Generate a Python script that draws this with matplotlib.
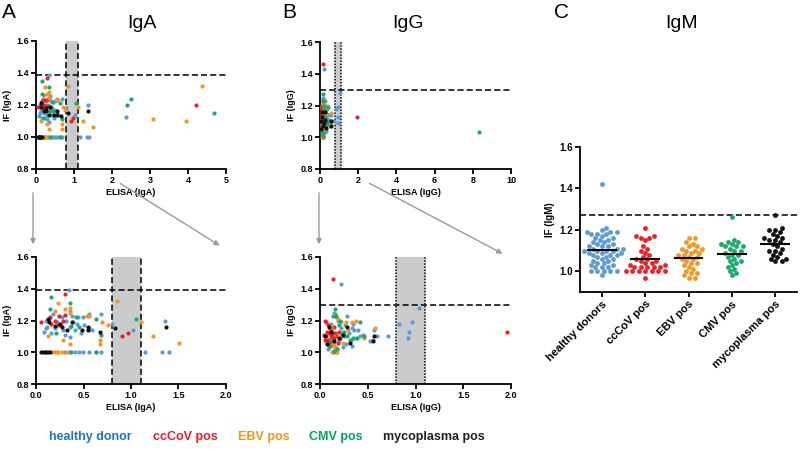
"""IgA / IgG / IgM specificity panels: ELISA vs IF scatter plus IgM dot plot."""

import numpy as np
import matplotlib
matplotlib.use("Agg")
import matplotlib.pyplot as plt
from matplotlib.patches import FancyArrowPatch

plt.rcParams["font.family"] = ["Liberation Sans", "DejaVu Sans"]

# group names and colours
groups = ["healthy donor", "ccCoV pos", "EBV pos", "CMV pos", "mycoplasma pos"]
dot_colors = ["#5b9bd5", "#ed2024", "#f7941d", "#1aab6b", "#111111"]
text_colors = ["#1b75bc", "#ed1c24", "#f7941d", "#00a651", "#231f20"]

# IgA: (ELISA, IF) per group
iga_healthy = [(0.35, 1.39), (0.685, 1.24), (0.557, 1.24), (0.494, 1.225), (0.44, 1.22),
               (0.36, 1.257), (0.11, 1.20), (0.10, 1.15), (0.12, 1.16), (0.20, 1.15),
               (0.25, 1.17), (0.355, 1.16), (0.41, 1.14), (0.47, 1.12), (0.51, 1.17),
               (0.56, 1.15), (0.59, 1.14), (0.355, 1.095), (0.30, 1.11), (0.16, 1.12),
               (0.27, 1.225), (0.32, 1.20), (0.39, 1.19), (0.80, 1.18), (1.02, 1.14),
               (1.36, 1.20), (0.18, 1.24), (0.14, 1.21), (0.22, 1.19), (0.38, 1.23),
               (0.43, 1.18), (0.28, 1.14), (0.08, 1.13), (0.30, 1.0), (0.41, 1.0),
               (0.45, 1.0), (0.49, 1.0), (0.56, 1.0), (0.63, 1.0), (0.685, 1.0),
               (1.15, 1.0), (1.33, 1.0), (1.40, 1.0), (0.22, 1.0), (0.35, 1.0),
               (2.36, 1.125)]
iga_cccov = [(0.30, 1.37), (0.05, 1.19), (0.15, 1.225), (0.20, 1.20), (0.24, 1.23),
             (0.285, 1.195), (0.31, 1.235), (0.23, 1.17), (0.16, 1.18), (0.91, 1.10),
             (0.97, 1.12), (4.21, 1.20)]
iga_ebv = [(0.85, 1.32), (0.23, 1.31), (0.355, 1.28), (0.30, 1.27), (0.20, 1.26),
           (0.355, 1.245), (0.54, 1.23), (0.557, 1.23), (0.70, 1.19), (0.76, 1.17),
           (1.10, 1.19), (0.13, 1.10), (0.285, 1.08), (0.355, 1.05), (0.675, 1.05),
           (0.675, 1.08), (1.23, 1.10), (1.51, 1.06), (0.17, 1.0), (0.20, 1.0),
           (0.23, 1.0), (0.27, 1.0), (0.33, 1.0), (3.08, 1.11), (3.95, 1.10), (4.37, 1.32)]
iga_cmv = [(0.157, 1.35), (0.355, 1.31), (0.146, 1.27), (0.42, 1.22), (0.63, 1.21),
           (1.05, 1.21), (0.37, 1.165), (0.215, 1.12), (0.68, 1.11), (0.45, 1.16),
           (0.37, 1.0), (0.63, 1.0), (2.40, 1.20), (2.49, 1.24), (4.68, 1.15)]
iga_myco = [(0.13, 1.21), (0.14, 1.19), (0.20, 1.165), (0.25, 1.18), (0.27, 1.16),
            (0.33, 1.14), (0.38, 1.19), (0.48, 1.14), (0.55, 1.16), (0.55, 1.14),
            (0.67, 1.13), (0.83, 1.15), (1.37, 1.16), (0.05, 1.0), (0.07, 1.0),
            (0.09, 1.0), (0.11, 1.0), (0.13, 1.0), (0.15, 1.0)]

# IgG: (ELISA, IF) per group
igg_healthy = [(0.22, 1.43), (1.04, 1.28), (0.83, 1.18), (0.96, 1.19), (0.93, 1.13),
               (0.92, 1.09), (0.71, 1.10), (0.60, 1.10), (0.52, 1.07), (0.57, 1.14),
               (0.28, 1.23), (0.15, 1.25), (0.16, 1.24), (0.33, 1.15), (0.36, 1.14),
               (0.30, 1.12), (0.25, 1.10), (0.27, 1.05), (0.24, 1.03), (0.33, 1.04),
               (0.08, 1.02), (0.18, 1.02), (0.38, 1.09), (0.40, 1.14), (0.45, 1.11),
               (0.20, 1.08), (0.22, 1.15), (0.12, 1.18), (0.26, 1.17), (0.35, 1.18),
               (0.42, 1.10), (0.31, 1.08), (0.19, 1.20)]
igg_cccov = [(0.14, 1.46), (1.96, 1.13), (0.05, 1.20), (0.06, 1.19), (0.08, 1.17),
             (0.10, 1.15), (0.12, 1.14), (0.07, 1.13), (0.09, 1.12), (0.11, 1.11),
             (0.13, 1.10), (0.15, 1.09), (0.06, 1.10), (0.08, 1.08), (0.10, 1.07),
             (0.12, 1.06), (0.14, 1.05), (0.16, 1.12), (0.18, 1.10), (0.20, 1.13),
             (0.05, 1.08), (0.07, 1.06), (0.09, 1.04), (0.11, 1.09), (0.13, 1.12),
             (0.15, 1.16), (0.17, 1.00), (0.14, 1.00), (0.19, 1.06), (0.21, 1.09),
             (0.04, 1.11), (0.16, 1.03)]
igg_ebv = [(0.17, 1.22), (0.19, 1.21), (0.38, 1.20), (0.33, 1.19), (0.27, 1.19),
           (0.58, 1.15), (0.46, 1.09), (0.55, 1.08), (0.14, 1.05), (0.16, 1.03),
           (0.10, 1.04), (0.22, 1.19), (0.20, 1.10), (0.29, 1.14), (0.13, 1.00),
           (0.18, 1.00), (0.24, 1.06), (0.12, 1.16)]
igg_cmv = [(0.16, 1.27), (0.14, 1.23), (0.17, 1.23), (0.21, 1.20), (0.42, 1.19),
           (0.39, 1.09), (0.32, 1.08), (0.28, 1.10), (0.46, 1.10), (0.20, 1.17),
           (0.12, 1.08), (0.15, 1.01), (0.18, 1.02), (0.25, 1.13), (0.10, 1.04),
           (0.23, 1.12), (0.35, 1.09), (8.3, 1.03)]
igg_myco = [(0.57, 1.10), (0.55, 1.07), (0.24, 1.11), (0.28, 1.16), (0.31, 1.06),
            (0.07, 1.05), (0.09, 1.16), (0.12, 1.13), (0.20, 1.09), (0.05, 1.10),
            (0.15, 1.07)]

# IgM IF values per group
igm_categories = ["healthy donors", "ccCoV pos", "EBV pos", "CMV pos", "mycoplasma pos"]
igm_healthy = [1.42, 1.21, 1.20, 1.19, 1.19, 1.19, 1.18, 1.18, 1.18, 1.17, 1.16, 1.16,
               1.15, 1.15, 1.14, 1.14, 1.13, 1.13, 1.12, 1.12, 1.12, 1.11, 1.11, 1.11,
               1.10, 1.10, 1.10, 1.10, 1.09, 1.09, 1.09, 1.08, 1.08, 1.08, 1.07, 1.07,
               1.06, 1.06, 1.05, 1.05, 1.04, 1.04, 1.03, 1.03, 1.02, 1.02, 1.02,
               1.00, 1.00, 1.00, 1.00, 1.00, 0.98]
igm_cccov = [1.21, 1.17, 1.17, 1.16, 1.16, 1.15, 1.12, 1.11, 1.10, 1.09, 1.08, 1.07,
             1.06, 1.06, 1.05, 1.05, 1.04, 1.04, 1.03, 1.03, 1.02, 1.02, 1.02, 1.02,
             1.02, 1.00, 1.00, 1.00, 1.00, 1.00, 1.00, 1.00, 0.97]
igm_ebv = [1.16, 1.16, 1.14, 1.13, 1.12, 1.12, 1.11, 1.11, 1.10, 1.10, 1.09, 1.09,
           1.08, 1.08, 1.07, 1.07, 1.06, 1.06, 1.05, 1.04, 1.04, 1.03, 1.02, 1.01,
           1.00, 0.99, 0.99, 0.98, 0.97, 0.97]
igm_cmv = [1.26, 1.15, 1.14, 1.14, 1.13, 1.13, 1.12, 1.12, 1.12, 1.11, 1.10, 1.10,
           1.09, 1.08, 1.08, 1.07, 1.06, 1.05, 1.05, 1.04, 1.03, 1.02, 1.01, 1.00,
           0.99, 0.98]
igm_myco = [1.27, 1.21, 1.20, 1.20, 1.19, 1.18, 1.17, 1.16, 1.16, 1.15, 1.15, 1.14,
            1.13, 1.12, 1.11, 1.10, 1.10, 1.09, 1.08, 1.07, 1.06, 1.06, 1.05, 1.05]

# cut-offs
iga_cutoff, igg_cutoff, igm_cutoff = 1.39, 1.30, 1.27
elisa_band = (0.8, 1.1)

W, H = 800.0, 451.0


def style_axes(ax, tick_fs):
    for side in ("top", "right"):
        ax.spines[side].set_visible(False)
    for side in ("left", "bottom"):
        ax.spines[side].set_linewidth(1.3)
    ax.tick_params(width=1.3, length=3.5, labelsize=tick_fs, pad=1.5)
    for lab in ax.get_xticklabels() + ax.get_yticklabels():
        lab.set_fontweight("bold")


def scatter_panel(ax, data, xmax, xticks, xfmt, cutoff, band_ls, label):
    ax.axvspan(*elisa_band, color="#c9cbcd", lw=0, zorder=0)
    for xv in elisa_band:
        ax.axvline(xv, color="black", ls=band_ls, lw=1.1, zorder=1)
    ax.axhline(cutoff, color="black", ls=(0, (4, 2)), lw=1.1, zorder=1)
    for pts, col in zip(data, dot_colors):
        arr = np.array(pts)
        ax.scatter(arr[:, 0], arr[:, 1], s=9, color=col, lw=0, zorder=3)
    ax.set_xlim(0, xmax)
    ax.set_ylim(0.8, 1.6)
    ax.set_xticks(xticks)
    ax.set_xticklabels([xfmt.format(t) for t in xticks])
    ax.set_yticks([0.8, 1.0, 1.2, 1.4, 1.6])
    ax.set_yticklabels(["0.8", "1.0", "1.2", "1.4", "1.6"])
    ax.set_xlabel(f"ELISA ({label})", fontsize=6.5, fontweight="bold", labelpad=2)
    ax.set_ylabel(f"IF ({label})", fontsize=6.5, fontweight="bold", labelpad=3)
    style_axes(ax, 6.5)


def swarm_offsets(values, dx, dy, step):
    """Greedy beeswarm: horizontal offsets (category units) for each value."""
    order = np.argsort(values)
    placed = []
    offs = np.zeros(len(values))
    for i in order:
        v = values[i]
        k = 0
        while True:
            cands = [0.0] if k == 0 else [k * step, -k * step]
            done = False
            for c in cands:
                ok = all(((c - px) / dx) ** 2 + ((v - py) / dy) ** 2 >= 1 for px, py in placed)
                if ok:
                    offs[i] = c
                    placed.append((c, v))
                    done = True
                    break
            if done:
                break
            k += 1
    return offs


def box(x0, y0, x1, y1):
    return [x0 / W, 1 - y1 / H, (x1 - x0) / W, (y1 - y0) / H]


fig = plt.figure(figsize=(8, 4.51), dpi=100)

iga = [iga_healthy, iga_cccov, iga_ebv, iga_cmv, iga_myco]
igg = [igg_healthy, igg_cccov, igg_ebv, igg_cmv, igg_myco]

ax_a1 = fig.add_axes(box(36, 41, 226, 169))
scatter_panel(ax_a1, iga, 5, [0, 1, 2, 3, 4, 5], "{:g}", iga_cutoff, (0, (4, 2)), "IgA")

ax_a2 = fig.add_axes(box(36, 257, 226, 384))
scatter_panel(ax_a2, iga, 2, [0, 0.5, 1.0, 1.5, 2.0], "{:.1f}", iga_cutoff, (0, (4, 2)), "IgA")

ax_b1 = fig.add_axes(box(320, 42, 511, 169))
scatter_panel(ax_b1, igg, 10, [0, 2, 4, 6, 8, 10], "{:g}", igg_cutoff, (0, (1, 1)), "IgG")

ax_b2 = fig.add_axes(box(320, 257, 511, 384))
scatter_panel(ax_b2, igg, 2, [0, 0.5, 1.0, 1.5, 2.0], "{:.1f}", igg_cutoff, (0, (1, 1)), "IgG")

# panel C
ax_c = fig.add_axes(box(580, 147, 797, 292))
igm = [igm_healthy, igm_cccov, igm_ebv, igm_cmv, igm_myco]
ax_c.axhline(igm_cutoff, color="black", ls=(0, (4, 2)), lw=1.1, zorder=1, xmax=1.015,
             clip_on=False)
for i, (vals, col) in enumerate(zip(igm, dot_colors)):
    vals = np.array(vals)
    offs = swarm_offsets(vals, dx=0.105, dy=0.021, step=0.05)
    ax_c.scatter(i + offs, vals, s=12, color=col, lw=0, zorder=3, clip_on=False)
    ax_c.plot([i - 0.32, i + 0.32], [vals.mean()] * 2, color="black", lw=1.5, zorder=4)
ax_c.set_xlim(-0.5, 4.5)
ax_c.set_ylim(0.9, 1.6)
ax_c.set_yticks([1.0, 1.2, 1.4, 1.6])
ax_c.set_yticklabels(["1.0", "1.2", "1.4", "1.6"])
ax_c.set_xticks(range(5))
ax_c.set_xticklabels(igm_categories, rotation=45, ha="right", rotation_mode="anchor")
ax_c.set_ylabel("IF (IgM)", fontsize=7, fontweight="bold", labelpad=3)
style_axes(ax_c, 7)
ax_c.tick_params(axis="x", labelsize=8)

# panel titles and letters
for x, title in [(142, "IgA"), (408, "IgG"), (682, "IgM")]:
    fig.text(x / W, 1 - 23 / H, title, fontsize=14, va="center", ha="center")
for x, letter in [(2, "A"), (282, "B"), (554, "C")]:
    fig.text(x / W, 1 - 12 / H, letter, fontsize=15, va="center", ha="left")

# zoom arrows
for (x0, y0), (x1, y1) in [((33, 190), (33, 247)), ((118, 182), (222, 247)),
                           ((319, 190), (319, 247)), ((367, 182), (505, 255))]:
    arr = FancyArrowPatch((x0 / W, 1 - y0 / H), (x1 / W, 1 - y1 / H),
                          transform=fig.transFigure,
                          arrowstyle="-|>,head_length=3,head_width=1.5",
                          color="#9a9a9a", lw=1.0)
    fig.add_artist(arr)

# colour legend
for x, name, col in zip([49, 153, 238, 309, 383], groups, text_colors):
    fig.text(x / W, 1 - 437 / H, name, color=col, fontsize=9, fontweight="bold",
             va="center", ha="left")

fig.savefig("out.png", dpi=100)
